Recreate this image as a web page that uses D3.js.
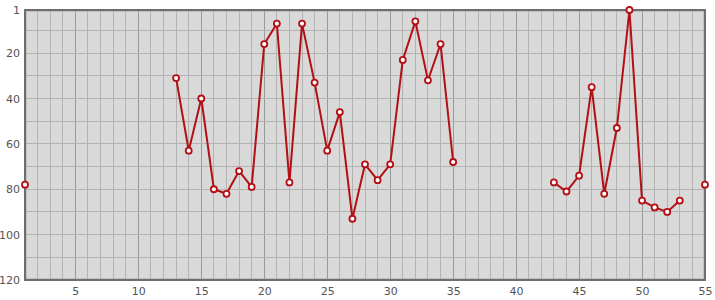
<!DOCTYPE html>
<html>
<head>
<meta charset="utf-8">
<script src="https://cdn.jsdelivr.net/npm/d3@7"></script>
<style>
  body { margin: 0; background: #fff; }
  svg { display: block; font-family: "DejaVu Sans", sans-serif; }
</style>
</head>
<body>
<svg id="chart" width="715" height="300"></svg>
<script>
/* ── Data ─────────────────────────────── */
const xValues = d3.range(1, 56);
const rankValues = [
  78, null, null, null, null, null, null, null, null, null,
  null, null, 31, 63, 40, 80, 82, 72, 79, 16,
  7, 77, 7, 33, 63, 46, 93, 69, 76, 69,
  23, 6, 32, 16, 68, null, null, null, null, null,
  null, null, 77, 81, 74, 35, 82, 53, 1, 85,
  88, 90, 85, null, 78
];
const xTicks = [5, 10, 15, 20, 25, 30, 35, 40, 45, 50, 55];
const yTicks = [1, 20, 40, 60, 80, 100, 120];
const yGrid  = [10, 20, 30, 40, 50, 60, 70, 80, 90, 100, 110];

const points = xValues.map((x, i) => ({ x, y: rankValues[i] }));

/* ── Layout ───────────────────────────── */
const svg = d3.select("#chart");
const margin = { top: 10, right: 10, bottom: 20, left: 25 };
const width  = 715 - margin.left - margin.right;
const height = 300 - margin.top - margin.bottom;

const x = d3.scaleLinear().domain([1, 55]).range([0, width]);
const y = d3.scaleLinear().domain([1, 120]).range([0, height]);

const g = svg.append("g").attr("transform", `translate(${margin.left},${margin.top})`);

g.append("rect")
  .attr("width", width).attr("height", height)
  .attr("fill", "#d9d9d9");

/* ── Grid ─────────────────────────────── */
g.append("g").selectAll("line")
  .data(xValues.filter(v => v > 1 && v < 55)).join("line")
  .attr("x1", d => x(d)).attr("x2", d => x(d))
  .attr("y1", 0).attr("y2", height)
  .attr("stroke", d => d % 5 === 0 ? "#999" : "#b3b3b3")
  .attr("stroke-width", 1)
  .attr("shape-rendering", "crispEdges");

g.append("g").selectAll("line")
  .data(yGrid).join("line")
  .attr("x1", 0).attr("x2", width)
  .attr("y1", d => y(d)).attr("y2", d => y(d))
  .attr("stroke", "#b3b3b3")
  .attr("stroke-width", 1)
  .attr("shape-rendering", "crispEdges");

/* ── Frame ────────────────────────────── */
g.append("rect")
  .attr("x", 1).attr("y", 1)
  .attr("width", width - 2).attr("height", height - 2)
  .attr("fill", "none").attr("stroke", "#aaa").attr("stroke-width", 1);
g.append("rect")
  .attr("width", width).attr("height", height)
  .attr("fill", "none").attr("stroke", "#6e6e6e").attr("stroke-width", 2);

/* ── Axes ─────────────────────────────── */
const xAxis = g.append("g")
  .attr("transform", `translate(0,${height})`)
  .call(d3.axisBottom(x).tickValues(xTicks).tickSize(0).tickPadding(7));
const yAxis = g.append("g")
  .call(d3.axisLeft(y).tickValues(yTicks).tickSize(0).tickPadding(5));

[xAxis, yAxis].forEach(a => {
  a.select(".domain").remove();
  a.selectAll("text")
    .attr("fill", "#555")
    .style("font-size", "11px")
    .style("font-family", "'DejaVu Sans', sans-serif");
});

/* ── Series ───────────────────────────── */
const line = d3.line()
  .defined(d => d.y !== null)
  .x(d => x(d.x)).y(d => y(d.y));

g.append("path")
  .datum(points)
  .attr("d", line)
  .attr("fill", "none")
  .attr("stroke", "#b30f14")
  .attr("stroke-width", 2);

g.append("g").selectAll("circle")
  .data(points.filter(d => d.y !== null)).join("circle")
  .attr("cx", d => x(d.x)).attr("cy", d => y(d.y))
  .attr("r", 3)
  .attr("fill", "#fff")
  .attr("stroke", "#b30f14")
  .attr("stroke-width", 1.8);
</script>
</body>
</html>
